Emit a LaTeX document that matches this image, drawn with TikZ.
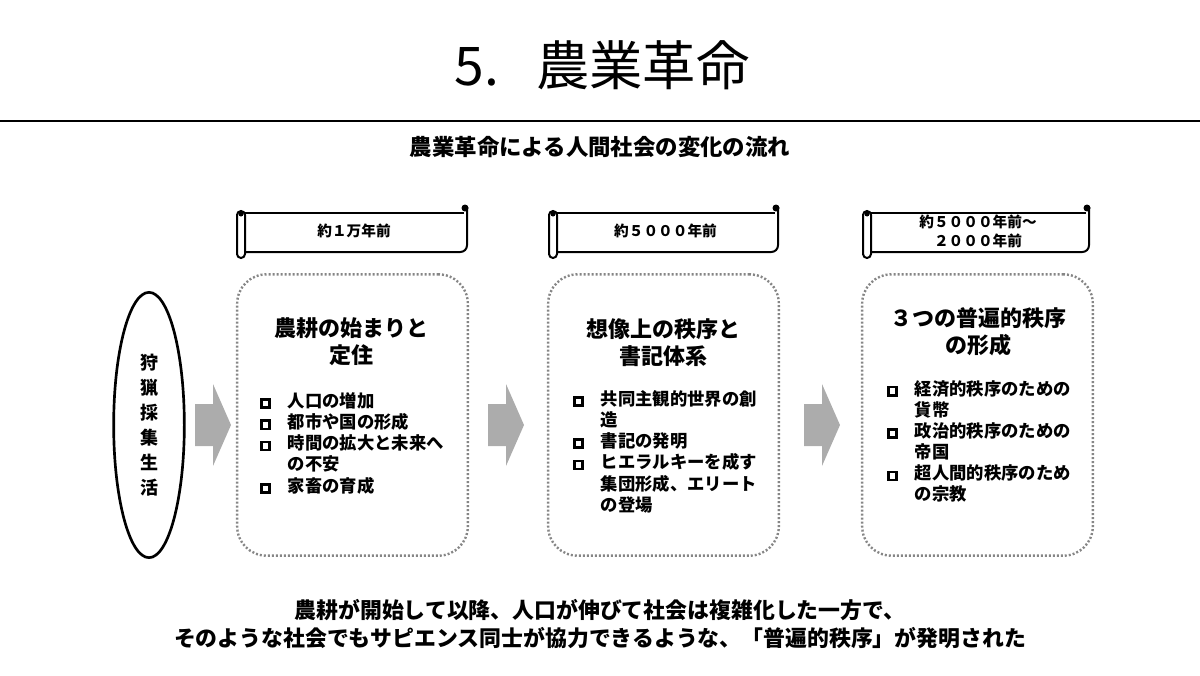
\documentclass[tikz,border=0pt]{standalone}
\usepackage{fontspec}
\setmainfont{Noto Sans CJK JP}
\usetikzlibrary{shapes.geometric}

\newcommand{\chk}{\raisebox{0.8pt}{\setlength{\fboxrule}{1.9pt}\setlength{\fboxsep}{0pt}\fbox{\rule{0pt}{4.2pt}\hspace{4.2pt}}}}

\tikzset{
    stagebox/.style={draw=gray!95, line width=1.8pt, dash pattern=on 1.5pt off 1.5pt,
        rounded corners=22pt, minimum width=173pt, minimum height=211pt},
    stagetitle/.style={font=\bfseries\fontsize{16.5pt}{20pt}\selectfont, align=center},
    itemlist/.style={anchor=north west, inner sep=0pt, font=\bfseries\fontsize{13pt}{15.75pt}\selectfont},
    scrollline/.style={line width=1.5pt},
    scrolltext/.style={font=\bfseries\fontsize{11pt}{14.25pt}\selectfont, align=center},
    arrowfill/.style={fill=gray!65}
}

\begin{document}
\begin{tikzpicture}[x=0.75pt, y=-0.75pt]
    \useasboundingbox (0,0) rectangle (1200,675);

    \node[font=\fontsize{40pt}{48pt}\selectfont] (title) at (602,65) {5.\hspace{0.7em}農業革命};
    \draw[line width=2.2pt] (0,121) coordinate (ruleL) -- (1200,121) coordinate (ruleR);
    \node[font=\bfseries\fontsize{16.8pt}{20pt}\selectfont] (subtitle) at (600,147) {農業革命による人間社会の変化の流れ};

    \foreach \l/\r/\n/\t in {237/467/s1/{約１万年前}, 549/778/s2/{約５０００年前}, 863/1089/s3/{約５０００年前～\\２０００年前}} {
        \draw[scrollline] (\l+5,213) -- (\r-3,213);
        \draw[scrollline, rounded corners=5] (\r,207) -- (\r,252) -- (\l+8,252);
        \fill (\r-2,208) circle (3.5);
        \draw[scrollline, rounded corners=3, fill=white] (\l,211) rectangle (\l+8,258);
        \fill (\l+4,214) circle (2.5);
        \node[scrolltext] (\n) at ({(\l+\r)/2+2},231) {\t};
    }

    \node[draw, ellipse, line width=2pt, minimum width=53pt, minimum height=199pt,
        font=\bfseries\fontsize{13.5pt}{18.75pt}\selectfont, align=center] (hunt) at (149,425)
        {狩\\猟\\採\\集\\生\\活};

    \node[stagebox] (box1) at (352.5,415) {};
    \node[stagebox] (box2) at (663.5,415) {};
    \node[stagebox] (box3) at (977.5,415) {};

    \foreach \x in {195, 488, 804} {
        \fill[arrowfill] (\x,404) -- ++(18,0) -- ++(0,-20) -- ++(18,41) -- ++(-18,41) -- ++(0,-20) -- ++(-18,0) -- cycle;
    }

    \node[stagetitle] (t1) at (351,342) {農耕の始まりと\\定住};
    \node[stagetitle] (t2) at (663,343) {想像上の秩序と\\書記体系};
    \node[stagetitle] (t3) at (978,332) {３つの普遍的秩序\\の形成};

    \node[itemlist] (l1) at (260,392) {\begin{tabular}{@{}l@{\hspace{12.7pt}}l@{}}
        \chk & 人口の増加\\
        \chk & 都市や国の形成\\
        \chk & 時間の拡大と未来へ\\
             & の不安\\
        \chk & 家畜の育成
    \end{tabular}};
    \node[itemlist] (l2) at (573,390) {\begin{tabular}{@{}l@{\hspace{12.7pt}}l@{}}
        \chk & 共同主観的世界の創\\
             & 造\\
        \chk & 書記の発明\\
        \chk & ヒエラルキーを成す\\
             & 集団形成、エリート\\
             & の登場
    \end{tabular}};
    \node[itemlist] (l3) at (887,380) {\begin{tabular}{@{}l@{\hspace{12.7pt}}l@{}}
        \chk & 経済的秩序のための\\
             & 貨幣\\
        \chk & 政治的秩序のための\\
             & 帝国\\
        \chk & 超人間的秩序のため\\
             & の宗教
    \end{tabular}};

    \node[font=\bfseries\fontsize{16.4pt}{21pt}\selectfont, align=center] (summary) at (600,624)
        {農耕が開始して以降、人口が伸びて社会は複雑化した一方で、\\
         そのような社会でもサピエンス同士が協力できるような、「普遍的秩序」が発明された};
\end{tikzpicture}
\end{document}
